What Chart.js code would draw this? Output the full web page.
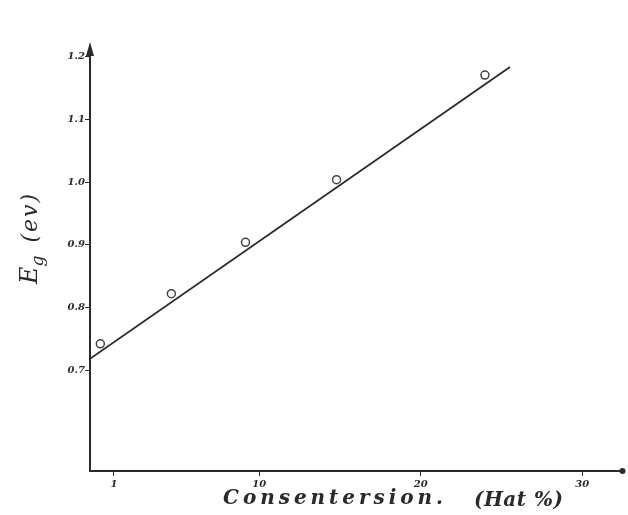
<!DOCTYPE html>
<html><head><meta charset="utf-8">
<script src="https://cdn.jsdelivr.net/npm/chart.js@4.4.0/dist/chart.umd.min.js"></script>
<style>html,body{margin:0;padding:0;background:#fff}#wrap{width:628px;height:515px}</style>
</head><body><div id="wrap"><canvas id="c" width="628" height="515"></canvas></div>
<script>
const xTicks = [1, 10, 20, 30];
const yTicks = [0.7, 0.8, 0.9, 1.0, 1.1, 1.2];
const yTickLabels = ["0.7", "0.8", "0.9", "1.0", "1.1", "1.2"];
const concentration = [0.16, 4.56, 9.15, 14.79, 23.98];
const bandGap = [0.742, 0.822, 0.904, 1.004, 1.171];
const fitX = [-0.48, 25.53];
const fitY = [0.718, 1.184];
const xTitleParts = ["Consentersion.", "(Hat %)"];
const yTitle = ["E", "g", " (ev)"];

const ink = '#2a2a2a';

function spacedText(ctx, text, x, y, width) {
  ctx.letterSpacing = '0px';
  const w = ctx.measureText(text).width;
  const ls = Math.max(0, (width - w) / Math.max(1, text.length - 1));
  ctx.letterSpacing = ls + 'px';
  ctx.fillText(text, x, y);
  ctx.letterSpacing = '0px';
}

const labelsPlugin = {
  id: 'labels',
  afterDraw(chart) {
    const ctx = chart.ctx;
    ctx.save();
    ctx.fillStyle = ink;
    ctx.textBaseline = 'alphabetic';
    ctx.font = 'italic bold 20px "DejaVu Serif"';
    spacedText(ctx, xTitleParts[0], 223, 504, 220);
    spacedText(ctx, xTitleParts[1], 474, 506, 89);
    // y title rotated
    ctx.translate(37, 284);
    ctx.rotate(-Math.PI / 2);
    ctx.font = 'italic 24px "DejaVu Serif"';
    ctx.fillText(yTitle[0], 0, 0);
    let w = ctx.measureText(yTitle[0]).width;
    ctx.font = 'italic 17px "DejaVu Serif"';
    ctx.fillText(yTitle[1], w, 6);
    w += ctx.measureText(yTitle[1]).width;
    ctx.font = 'italic 22px "DejaVu Serif"';
    spacedText(ctx, yTitle[2], w + 4, 0, 90 - w - 4);
    ctx.restore();
    // arrow head and end dot
    const a = chart.chartArea;
    ctx.save();
    ctx.fillStyle = ink;
    ctx.beginPath();
    ctx.moveTo(a.left, a.top - 8);
    ctx.lineTo(a.left - 4, a.top + 6);
    ctx.lineTo(a.left + 4, a.top + 6);
    ctx.closePath();
    ctx.fill();
    ctx.beginPath();
    ctx.arc(a.right, a.bottom, 3, 0, Math.PI * 2);
    ctx.fill();
    ctx.restore();
  }
};

new Chart(document.getElementById('c'), {
  type: 'scatter',
  data: {
    datasets: [
      {
        data: concentration.map((x, i) => ({x, y: bandGap[i]})),
        pointRadius: 4,
        pointBorderColor: '#444',
        pointBackgroundColor: 'rgba(255,255,255,0)',
        pointBorderWidth: 1.5,
        showLine: false
      },
      {
        data: fitX.map((x, i) => ({x, y: fitY[i]})),
        showLine: true,
        pointRadius: 0,
        borderColor: ink,
        borderWidth: 1.8
      }
    ]
  },
  options: {
    responsive: false,
    animation: false,
    layout: {padding: {top: 50, right: 5, left: 0, bottom: 0}},
    plugins: {legend: {display: false}, tooltip: {enabled: false}},
    scales: {
      x: {
        type: 'linear', min: -0.48, max: 32.5,
        afterBuildTicks: s => { s.ticks = xTicks.map(v => ({value: v})); },
        afterFit: s => { s.height = 44; },
        grid: {display: true, drawOnChartArea: false, drawTicks: true, tickLength: 5, color: ink},
        border: {display: true, color: ink, width: 2},
        ticks: {color: ink, font: {family: 'DejaVu Serif', size: 10, style: 'italic', weight: 'bold'}, padding: 2, maxRotation: 0,
          callback: v => String(v)}
      },
      y: {
        type: 'linear', min: 0.539, max: 1.211,
        afterBuildTicks: s => { s.ticks = yTicks.map(v => ({value: v})); },
        afterFit: s => { s.width = 90; },
        grid: {display: true, drawOnChartArea: false, drawTicks: true, tickLength: 5, color: ink},
        border: {display: true, color: ink, width: 2},
        ticks: {color: ink, font: {family: 'DejaVu Serif', size: 10, style: 'italic', weight: 'bold'}, padding: 0,
          callback: v => yTickLabels[yTicks.findIndex(t => Math.abs(t - v) < 1e-6)]}
      }
    }
  },
  plugins: [labelsPlugin]
});
</script></body></html>
